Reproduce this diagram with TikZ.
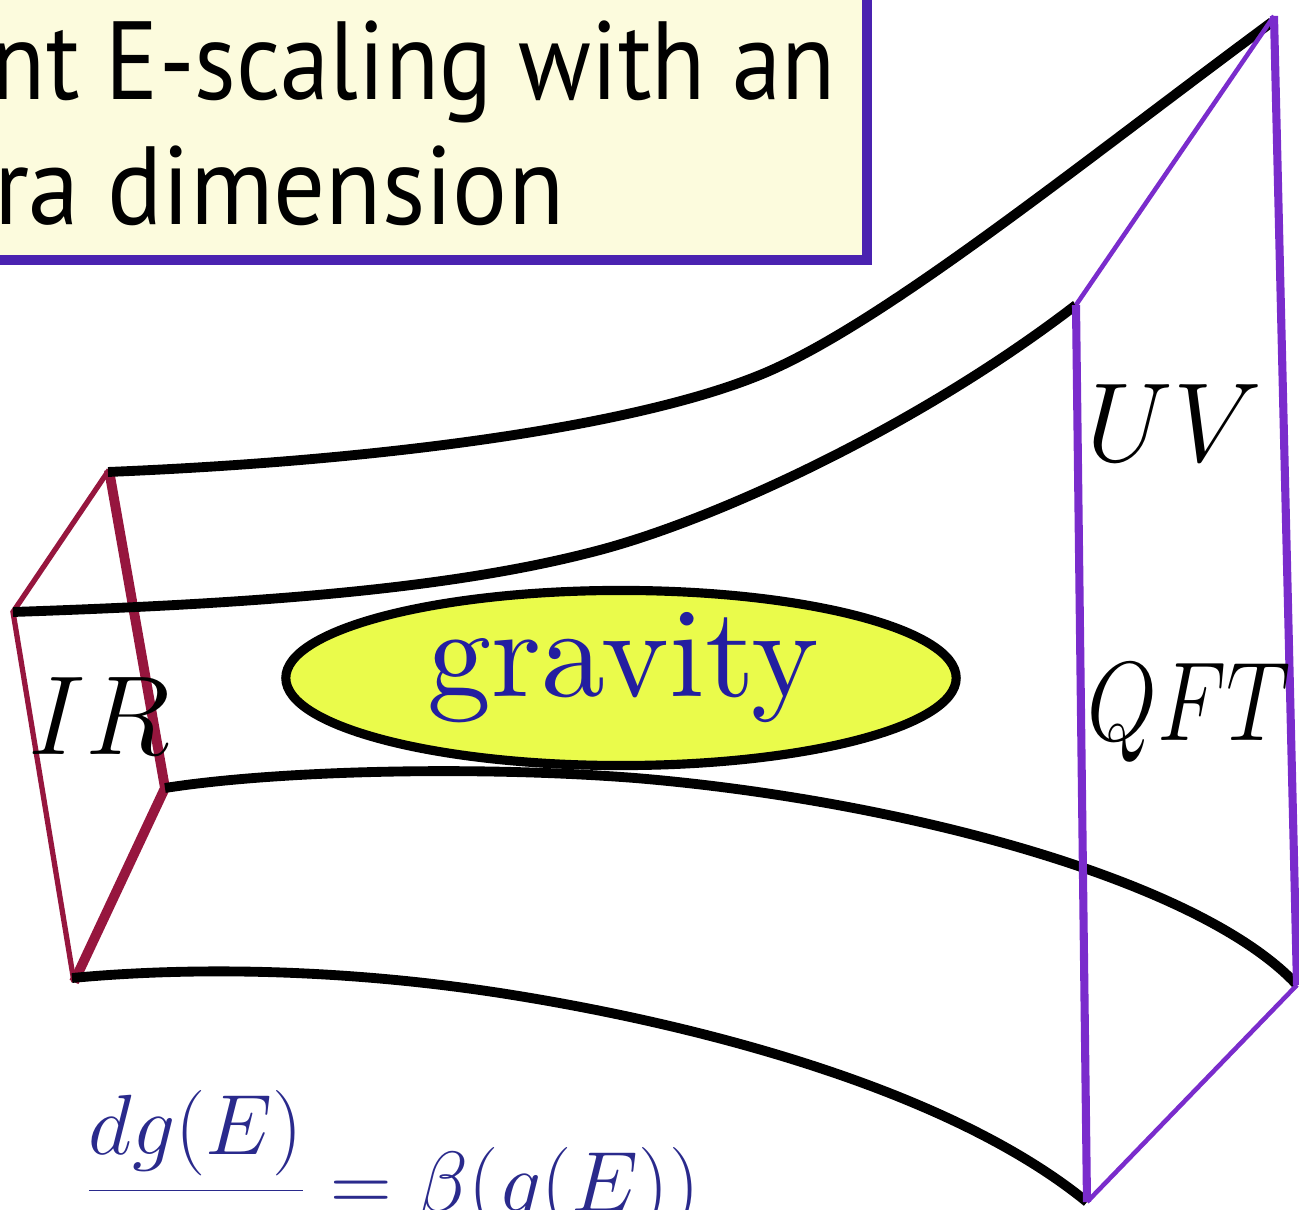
\RequirePackage{fix-cm}
\documentclass[tikz,border=0pt]{standalone}
\usepackage{fontspec}
\newfontfamily\titlefont{PT Sans}
\newfontfamily\gravfont{lmroman10-regular.otf}
\usetikzlibrary{shapes.geometric, positioning}

\definecolor{boxfill}{RGB}{252,251,221}
\definecolor{boxline}{RGB}{74,34,176}
\definecolor{irred}{RGB}{150,22,62}
\definecolor{uvpurple}{RGB}{122,44,204}
\definecolor{blobfill}{RGB}{234,251,75}
\definecolor{gravblue}{RGB}{35,30,160}
\definecolor{eqblue}{RGB}{42,42,140}

\begin{document}
\begin{tikzpicture}[
    x=0.01cm, y=-0.01cm,
    tube/.style={line width=2.8pt},
    irthin/.style={draw=irred, line width=1.5pt},
    irthick/.style={draw=irred, line width=2.8pt},
    uvthin/.style={draw=uvpurple, line width=1.3pt},
    uvthick/.style={draw=uvpurple, line width=2.3pt},
    blob/.style={ellipse, draw, line width=2.6pt, fill=blobfill,
                 minimum width=6.7cm, minimum height=1.75cm, inner sep=0pt},
    lbl/.style={inner sep=0pt, font=\fontsize{32}{38}\selectfont},
    titletext/.style={inner sep=0pt, font=\titlefont\fontsize{31.6}{38}\selectfont}
  ]
    \useasboundingbox (0,0) rectangle (1299,1210);
    \clip (0,0) rectangle (1299,1210);

    % title box, cut off at the page edge
    \draw[boxline, line width=2.6pt, fill=boxfill] (-30,-30) rectangle (867,260);
    \node[titletext, anchor=base east] (title1) at (836,100) {\scalebox{0.89}[1]{nt E-scaling with an}};
    \node[titletext, anchor=base east] (title2) at (565,225) {\scalebox{0.925}[1]{ra dimension}};

    % corners of the IR and UV ends
    \coordinate (ir1) at (109,470);
    \coordinate (ir2) at (13,612);
    \coordinate (ir3) at (165,788);
    \coordinate (ir4) at (74,982);
    \coordinate (uv1) at (1076,305);
    \coordinate (uv2) at (1274,16);
    \coordinate (uv3) at (1297,985);
    \coordinate (uv4) at (1087,1202);

    % IR end
    \draw[irthin] (ir1) -- (ir2) -- (ir4);
    \draw[irthick] (ir1) -- (ir3) -- (ir4);

    % the four edges of the tube
    \draw[tube] (108,472) .. controls (400,460) and (640,424) .. (760,375)
                          .. controls (880,326) and (1072,170) .. (1272,22);
    \draw[tube] (ir2) .. controls (250,604) and (450,590) .. (600,550)
                      .. controls (720,518) and (920,425) .. (uv1);
    \draw[tube] (ir3) .. controls (280,770) and (480,766) .. (635,778)
                      .. controls (900,800) and (1200,880) .. (uv3);
    \draw[tube] (72,978) .. controls (200,966) and (350,970) .. (500,993)
                         .. controls (700,1024) and (950,1090) .. (uv4);

    % UV end
    \draw[uvthin] (uv1) -- (uv2);
    \draw[uvthick] (uv2) -- (uv3);
    \draw[uvthick] (uv1) -- (uv4);
    \draw[uvthin] (uv4) -- (uv3);

    \node[blob] (grav) at (621,678) {};
    \node[inner sep=0pt, anchor=base, text=gravblue, font=\gravfont\fontsize{36.4}{42}\selectfont] (gravlbl) at (623,697) {gravity};

    \node[lbl, anchor=base west] (ir) at (28,755) {$IR$};
    \node[lbl, anchor=base west] (uv) at (1086,462) {$UV$};
    \node[lbl, anchor=base west] (qft) at (1087,741) {\scalebox{0.8}[1]{$QFT$}};

    \node[inner sep=0pt, anchor=base west, text=eqblue, font=\fontsize{24.3}{28}\selectfont] (rg) at (84,1212)
      {$\displaystyle\frac{dg(E)}{} = \beta(g(E))$};
  \end{tikzpicture}
\end{document}
